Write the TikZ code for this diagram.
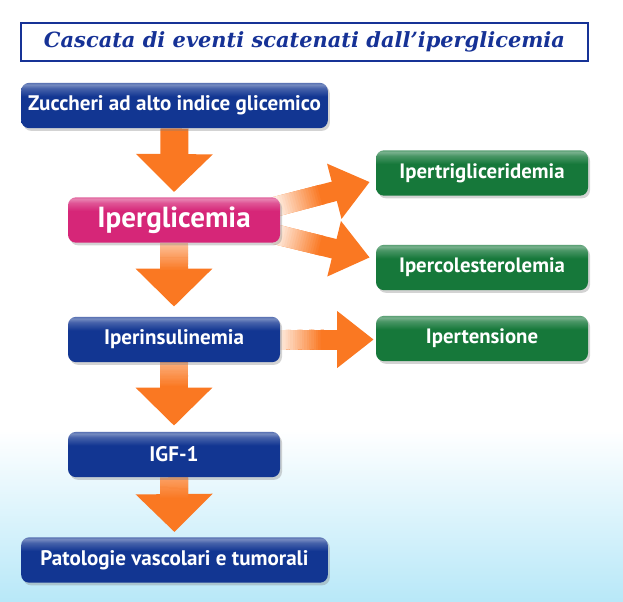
\documentclass[tikz,border=0pt]{standalone}
\usepackage{fontspec}
\newfontfamily\boxfont{PT Sans}
\newfontfamily\titlefont{DejaVu Serif}
\usetikzlibrary{arrows.meta,calc,shadows}

\definecolor{boxblue}{RGB}{18,54,146}
\definecolor{boxpink}{RGB}{214,38,120}
\definecolor{boxgreen}{RGB}{22,120,58}
\definecolor{arrorange}{RGB}{250,120,34}
\definecolor{titleblue}{RGB}{22,50,150}
\definecolor{skyblue}{RGB}{184,232,248}

% glossy fill for the boxes
\newcommand\declgloss[2]{%
  \pgfdeclareverticalshading{#1}{100bp}{color(0bp)=(#2); color(60bp)=(#2);
    color(69bp)=(#2!78!white); color(73bp)=(#2!58!white); color(75bp)=(#2!70!white);
    color(100bp)=(#2!70!white)}}
\declgloss{glossblue}{boxblue}
\declgloss{glosspink}{boxpink}
\declgloss{glossgreen}{boxgreen}

% pale start of an arrow shaft
\newcommand\fadeshaft[5]{%
  \foreach \k in {0,...,19}{%
    \pgfmathsetmacro\ca{\k/20*#4}%
    \pgfmathsetmacro\cb{(\k+1.3)/20*#4}%
    \pgfmathsetmacro\tint{#5+(100-#5)*\k/19}%
    \draw[line width=#3, arrorange!\tint] ($(#1)!\ca!(#2)$) -- ($(#1)!\cb!(#2)$);
  }}

\pgfdeclarelayer{backdrop}
\pgfdeclarelayer{arrows}
\pgfsetlayers{backdrop,arrows,main}

\tikzset{
  stepbox/.style={rounded corners=6pt, minimum width=159pt, minimum height=34pt,
    inner sep=0pt, text=white, font=\boxfont\bfseries\fontsize{15.8}{18}\selectfont,
    drop shadow={opacity=0.35, shadow xshift=1.5pt, shadow yshift=-2pt}},
  bluebox/.style={stepbox, shading=glossblue},
  pinkbox/.style={stepbox, shading=glosspink, font=\boxfont\bfseries\fontsize{21.8}{24}\selectfont},
  greenbox/.style={stepbox, shading=glossgreen, font=\boxfont\bfseries\fontsize{15.6}{18}\selectfont},
  titlebox/.style={draw=titleblue, line width=1.1pt, minimum width=425pt, minimum height=28.5pt,
    text=titleblue, font=\titlefont\bfseries\itshape\fontsize{15.7}{18}\selectfont},
  downarrow/.style={arrorange, line width=21pt, -{Triangle[width=56pt,length=28.5pt]}},
  sidearrow/.style={arrorange, line width=15pt, -{Triangle[width=41pt,length=27.5pt]}},
}

\begin{document}
\begin{tikzpicture}[x=0.75pt,y=0.75pt,yscale=-1,xscale=1]
\useasboundingbox (0,0) rectangle (623,601);

\begin{pgfonlayer}{backdrop}
  \shade[top color=white, bottom color=skyblue] (0,430) rectangle (623,601);
\end{pgfonlayer}

\node[titlebox] (title) at (304.5,42) {Cascata di eventi scatenati dall’iperglicemia};

\node[bluebox, minimum width=230pt] (sug) at (174.5,105.5) {Zuccheri ad alto indice glicemico};
\node[pinkbox] (gly) at (174,220) {Iperglicemia};
\node[bluebox] (ins) at (174,339.5) {Iperinsulinemia};
\node[bluebox] (igf) at (174,454.5) {IGF-1};
\node[bluebox, minimum width=230pt] (pat) at (174.5,560) {Patologie vascolari e tumorali};

\node[greenbox] (trig) at (482,173) {Ipertrigliceridemia};
\node[greenbox] (chol) at (482,267.5) {Ipercolesterolemia};
\node[greenbox] (tens) at (482,338.5) {Ipertensione};

\begin{pgfonlayer}{arrows}
  \coordinate (d1) at ($(gly.north)+(0,-5)$);
  \coordinate (d2) at ($(ins.north)+(0,-10)$);
  \coordinate (d3) at ($(igf.north)+(0,-6)$);
  \coordinate (d4) at ($(pat.north)+(0,-5)$);
  \draw[downarrow] (sug.south) -- (d1);
  \draw[downarrow] (gly.south) -- (d2);
  \draw[downarrow] (ins.south) -- (d3);
  \draw[downarrow] (igf.south) -- (d4);
  \fadeshaft{gly.south}{d2}{21pt}{0.45}{45}
  \fadeshaft{ins.south}{d3}{21pt}{0.4}{60}
  \fadeshaft{igf.south}{d4}{21pt}{0.4}{70}

  \coordinate (s1) at ($(gly.east)+(-6,-13)$);
  \coordinate (t1) at ($(trig.west)+(-6,9)$);
  \coordinate (s2) at ($(gly.east)+(-6,14)$);
  \coordinate (t2) at ($(chol.west)+(-6,-10)$);
  \coordinate (s3) at ($(ins.east)+(-4,0)$);
  \coordinate (t3) at ($(s3 -| tens.west)+(-2,0)$);
  \draw[sidearrow] (s1) -- (t1);
  \draw[sidearrow] (s2) -- (t2);
  \draw[sidearrow] (s3) -- (t3);
  \fadeshaft{s1}{t1}{15pt}{0.5}{8}
  \fadeshaft{s2}{t2}{15pt}{0.5}{8}
  \fadeshaft{s3}{t3}{15pt}{0.48}{8}
\end{pgfonlayer}
\end{tikzpicture}
\end{document}
